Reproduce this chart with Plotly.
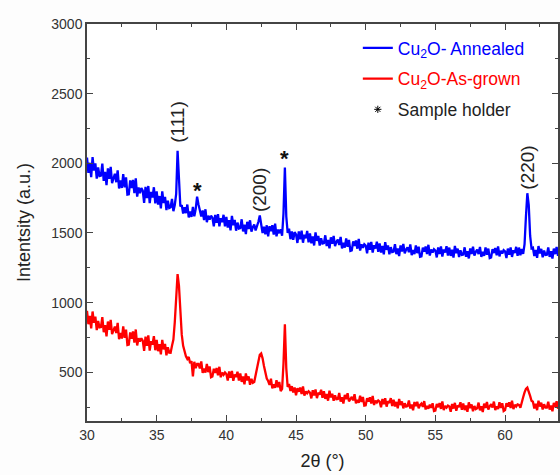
import plotly.graph_objects as go

# 2-theta grid: 30.0 to 63.9 deg, 0.1 deg step
two_theta_start = 30.0
two_theta_step = 0.1

annealed_counts = [
    2041, 1931, 2004, 1901, 2044, 1948, 2000, 1890, 1970, 1909,
    1912, 1998, 1874, 1939, 1843, 1964, 1889, 1975, 1858, 1902,
    1925, 1864, 1950, 1819, 1877, 1823, 1923, 1827, 1899, 1775,
    1777, 1877, 1823, 1881, 1785, 1892, 1761, 1826, 1786, 1823,
    1804, 1716, 1831, 1750, 1837, 1714, 1794, 1755, 1828, 1712,
    1798, 1703, 1765, 1676, 1798, 1715, 1759, 1664, 1732, 1679,
    1685, 1745, 1656, 1701, 1780, 2090, 1820, 1690, 1700, 1640,
    1685, 1642, 1704, 1611, 1653, 1615, 1687, 1619, 1671, 1760,
    1705, 1657, 1619, 1661, 1593, 1670, 1577, 1624, 1596, 1623,
    1610, 1548, 1630, 1573, 1635, 1548, 1605, 1578, 1630, 1548,
    1615, 1538, 1591, 1519, 1622, 1555, 1593, 1516, 1574, 1532,
    1535, 1598, 1511, 1559, 1492, 1580, 1528, 1591, 1509, 1542,
    1560, 1518, 1545, 1580, 1625, 1575, 1500, 1545, 1490, 1555,
    1475, 1548, 1512, 1555, 1489, 1567, 1476, 1524, 1498, 1526,
    1480, 1640, 1970, 1620, 1500, 1530, 1455, 1510, 1450, 1505,
    1490, 1428, 1511, 1454, 1517, 1430, 1488, 1461, 1514, 1432,
    1496, 1426, 1475, 1410, 1504, 1443, 1478, 1409, 1462, 1424,
    1427, 1483, 1406, 1449, 1389, 1469, 1422, 1479, 1406, 1436,
    1452, 1414, 1472, 1389, 1429, 1395, 1461, 1401, 1450, 1371,
    1375, 1440, 1407, 1446, 1387, 1457, 1374, 1418, 1394, 1419,
    1409, 1354, 1430, 1379, 1436, 1359, 1412, 1388, 1437, 1364,
    1424, 1359, 1406, 1346, 1434, 1379, 1411, 1347, 1398, 1363,
    1366, 1420, 1348, 1389, 1334, 1410, 1367, 1421, 1353, 1381,
    1397, 1362, 1417, 1341, 1378, 1348, 1410, 1355, 1401, 1329,
    1332, 1395, 1366, 1403, 1348, 1415, 1338, 1381, 1359, 1383,
    1374, 1324, 1396, 1349, 1403, 1331, 1381, 1360, 1405, 1338,
    1395, 1335, 1379, 1323, 1407, 1355, 1387, 1327, 1375, 1343,
    1345, 1397, 1329, 1369, 1317, 1389, 1349, 1401, 1337, 1365,
    1380, 1348, 1400, 1328, 1364, 1336, 1396, 1344, 1388, 1320,
    1324, 1384, 1356, 1392, 1340, 1404, 1332, 1372, 1352, 1376,
    1368, 1320, 1388, 1344, 1396, 1328, 1376, 1356, 1400, 1336,
    1395, 1340, 1385, 1350, 1420, 1620, 1785, 1700, 1480, 1390,
    1394, 1334, 1378, 1322, 1406, 1354, 1386, 1326, 1374, 1342,
    1344, 1396, 1328, 1368, 1316, 1388, 1348, 1400, 1336, 1364,
]

as_grown_counts = [
    941, 845, 904, 815, 936, 855, 899, 803, 868, 822,
    824, 896, 787, 838, 757, 864, 804, 876, 774, 811,
    828, 781, 854, 737, 782, 742, 829, 747, 806, 696,
    699, 786, 741, 793, 713, 807, 692, 744, 720, 744,
    727, 654, 756, 690, 764, 656, 723, 699, 759, 658,
    732, 651, 702, 628, 733, 664, 703, 622, 680, 641,
    640, 690, 735, 860, 1060, 1205, 1120, 930, 770, 690,
    640, 615, 595, 610, 565, 580, 470, 575, 530, 560,
    560, 527, 578, 495, 526, 498, 559, 501, 542, 464,
    469, 525, 495, 530, 478, 539, 464, 498, 482, 498,
    487, 440, 505, 461, 509, 439, 483, 467, 504, 440,
    492, 431, 470, 414, 492, 441, 470, 410, 453, 424,
    430, 475, 520, 575, 625, 635, 600, 545, 490, 455,
    437, 409, 454, 384, 412, 389, 442, 393, 430, 364,
    380, 560, 845, 530, 395, 415, 365, 400, 355, 390,
    335, 385, 360, 390, 344, 398, 333, 363, 349, 364,
    354, 312, 371, 333, 376, 314, 353, 339, 374, 316,
    363, 309, 344, 296, 367, 319, 345, 296, 334, 306,
    308, 351, 289, 320, 276, 338, 306, 349, 291, 313,
    323, 298, 342, 277, 302, 281, 332, 287, 322, 261,
    263, 314, 289, 320, 275, 330, 265, 296, 283, 298,
    289, 248, 308, 271, 313, 253, 292, 279, 314, 258,
    303, 254, 287, 241, 308, 265, 291, 241, 277, 254,
    257, 297, 240, 268, 227, 286, 257, 288, 242, 265,
    275, 251, 293, 233, 258, 238, 267, 245, 277, 221,
    224, 273, 249, 279, 237, 290, 229, 258, 246, 261,
    254, 216, 272, 239, 280, 224, 261, 250, 284, 231,
    276, 228, 261, 216, 284, 242, 269, 220, 258, 235,
    241, 282, 226, 256, 214, 274, 244, 286, 233, 256,
    270, 247, 289, 229, 255, 236, 285, 244, 277, 221,
    228, 277, 254, 284, 243, 296, 236, 266, 254, 269,
    266, 245, 290, 320, 355, 380, 390, 365, 330, 295,
    288, 240, 273, 228, 296, 254, 281, 232, 270, 247,
    247, 288, 232, 262, 220, 280, 250, 292, 239, 262,
]

peak_labels = ["(111)", "(200)", "(220)"]
peak_positions = [36.5, 42.4, 61.6]
peak_label_y = [2295, 1806, 1971]
holder_positions = [37.95, 44.2]
holder_label_y = [1806, 2036]

two_theta = [round(two_theta_start + i * two_theta_step, 1) for i in range(len(annealed_counts))]

FONT = "Liberation Sans, Arial, sans-serif"

fig = go.Figure()
fig.add_trace(go.Scatter(
    x=two_theta, y=annealed_counts, mode="lines",
    line=dict(color="#0000FF", width=2.3),
    name="<span style='color:#0000FF'>Cu<sub>2</sub>O- Annealed</span>",
    legendgroup="a",
))
fig.add_trace(go.Scatter(
    x=two_theta, y=as_grown_counts, mode="lines",
    line=dict(color="#FF0000", width=2.3),
    name="<span style='color:#FF0000'>Cu<sub>2</sub>O-As-grown</span>",
    legendgroup="b",
))
fig.add_trace(go.Scatter(
    x=[None], y=[None], mode="markers",
    marker=dict(symbol="asterisk-open", size=6, color="black", line=dict(width=1, color="black")),
    name="Sample holder", legendgroup="c",
))

for lbl, px, py in zip(peak_labels, peak_positions, peak_label_y):
    fig.add_annotation(x=px, y=py, text=lbl, textangle=-90, showarrow=False,
                       font=dict(family=FONT, size=19, color="#222"),
                       xanchor="center", yanchor="middle")
for px, py in zip(holder_positions, holder_label_y):
    fig.add_annotation(x=px, y=py, text="<b>*</b>", showarrow=False,
                       font=dict(family=FONT, size=22, color="#111"),
                       xanchor="center", yanchor="middle")

axis_common = dict(
    showline=True, linecolor="#444", linewidth=1.5, mirror="ticks",
    ticks="inside", ticklen=6, tickwidth=1.3, tickcolor="#444",
    showgrid=False, zeroline=False,
    tickfont=dict(family=FONT, size=14, color="#333"),
)

fig.update_xaxes(
    range=[30, 63.8], dtick=5, tick0=30,
    minor=dict(ticks="inside", ticklen=3, dtick=2.5, tickcolor="#444", tickwidth=1.2),
    title=dict(text="2θ (°)", font=dict(family=FONT, size=18, color="#222"), standoff=13),
    **axis_common,
)
fig.update_yaxes(
    range=[150, 3000], dtick=500, tick0=0,
    minor=dict(ticks="inside", ticklen=3, dtick=250, tickcolor="#444", tickwidth=1.2),
    title=dict(text="Intentsity (a.u.)", font=dict(family=FONT, size=18, color="#222"), standoff=16),
    **axis_common,
)

fig.update_layout(
    width=560, height=475,
    margin=dict(l=87, r=2, t=24, b=54, autoexpand=False),
    paper_bgcolor="#fdfdfd", plot_bgcolor="white",
    showlegend=True,
    legend=dict(
        x=0.575, y=0.985, xanchor="left", yanchor="top",
        bgcolor="rgba(0,0,0,0)", borderwidth=0,
        font=dict(family=FONT, size=17.5, color="#222"),
        traceorder="grouped", tracegroupgap=5,
    ),
)

fig.write_html("out.html", config={"displayModeBar": False})

# remove the browser's default page margin so the figure sits at the window origin
with open("out.html", "r", encoding="utf-8") as fh:
    html = fh.read()
html = html.replace("<head>", "<head><style>html,body{margin:0;padding:0;overflow:hidden;}</style>", 1)
with open("out.html", "w", encoding="utf-8") as fh:
    fh.write(html)
